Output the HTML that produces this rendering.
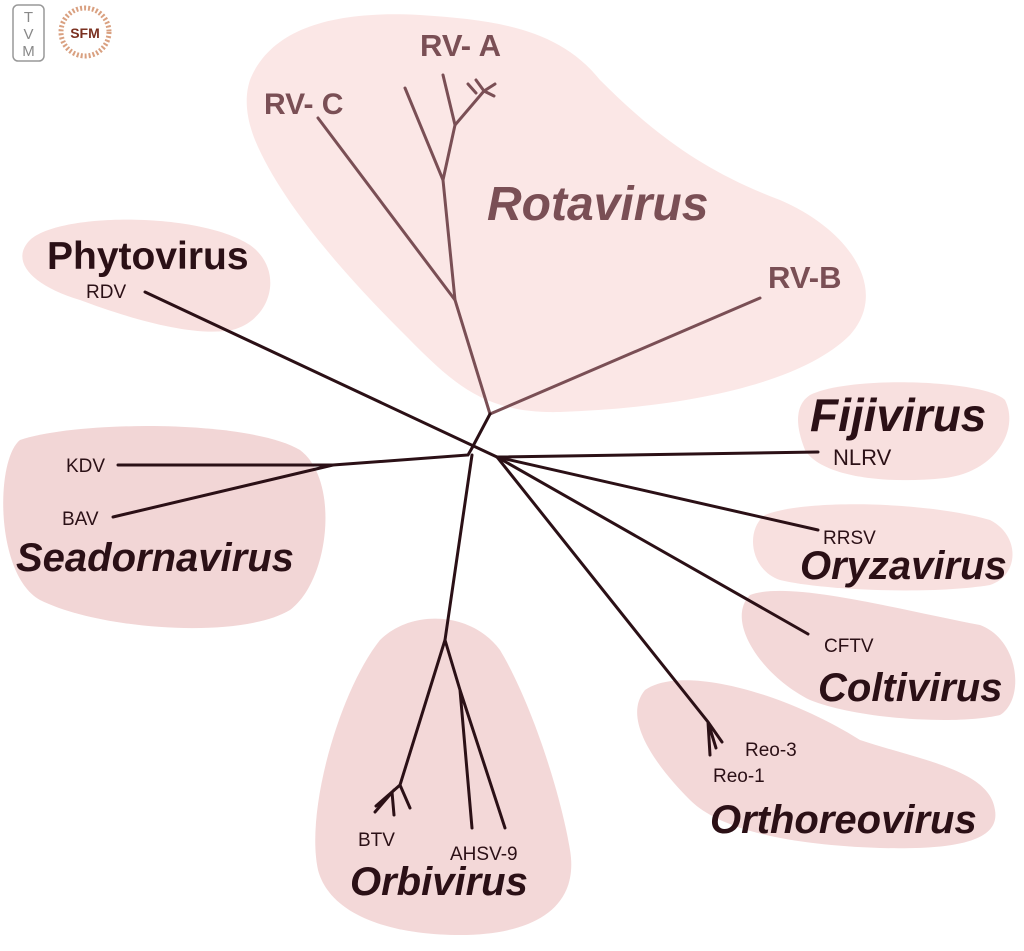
<!DOCTYPE html>
<html><head><meta charset="utf-8"><style>
body{margin:0;background:#fff}
svg{display:block}
text{font-family:"Liberation Sans",sans-serif}
</style></head><body>
<svg width="1024" height="951" viewBox="0 0 1024 951">
<rect x="13" y="5" width="31" height="56" rx="5" fill="none" stroke="#999" stroke-width="1.5"/>
<text x="28.5" y="22" font-size="15" fill="#888" text-anchor="middle">T</text>
<text x="28.5" y="39" font-size="15" fill="#888" text-anchor="middle">V</text>
<text x="28.5" y="56" font-size="15" fill="#888" text-anchor="middle">M</text>
<circle cx="85" cy="32" r="24" fill="none" stroke="#d9a080" stroke-width="5" stroke-dasharray="2 2"/>
<circle cx="85" cy="32" r="19" fill="#fff"/>
<text x="85" y="38" font-size="14" font-weight="bold" fill="#7a3020" text-anchor="middle">SFM</text>

<path d="M250,80 C270,30 330,10 420,15 C500,20 560,30 600,80 C650,130 700,170 780,200 C850,230 890,290 850,335 C800,385 680,408 560,412 C480,414 450,380 400,330 C340,270 280,200 255,140 C245,115 245,95 250,80 Z" fill="#fbe7e6"/>
<path d="M30,240 C60,212 200,212 250,245 C285,270 272,320 232,330 C190,338 120,315 80,300 C30,285 10,260 30,240 Z" fill="#f8e0df"/>
<path d="M20,440 C80,420 250,420 300,450 C340,480 330,580 290,610 C240,640 100,630 40,600 C-5,575 -5,460 20,440 Z" fill="#f2d6d6"/>
<path d="M810,395 C850,375 985,380 1005,400 C1020,430 995,472 945,478 C880,485 820,475 805,450 C795,425 795,405 810,395 Z" fill="#f8e0df"/>
<path d="M765,515 C800,500 920,500 990,520 C1020,535 1020,575 990,585 C930,595 820,590 780,580 C750,570 745,530 765,515 Z" fill="#f8e0df"/>
<path d="M750,595 C790,580 900,610 980,625 C1020,640 1025,700 1000,715 C960,725 860,720 810,700 C760,675 725,620 750,595 Z" fill="#f3d8d8"/>
<path d="M645,690 C680,665 780,690 860,740 C920,760 990,770 995,810 C1000,840 960,850 880,848 C790,845 720,830 690,800 C660,770 620,720 645,690 Z" fill="#f3d8d8"/>
<path d="M380,640 C410,610 470,610 500,650 C530,700 560,790 570,850 C580,910 530,935 460,935 C390,935 330,915 318,870 C305,810 340,690 380,640 Z" fill="#f3d8d8"/>

<g stroke="#7a4f55" stroke-width="3" fill="none" stroke-linecap="round">
<path d="M490,414 L455,300 L443,180 L455,125 L484,91"/>
<path d="M455,300 L318,118"/>
<path d="M490,414 L760,298"/>
<path d="M443,180 L405,88"/>
<path d="M455,125 L443,75"/>
<path d="M484,91 L476,80 M484,91 L495,84 M484,91 L494,96 M476,93 L468,84"/>
</g>
<g stroke="#2b1016" stroke-width="3" fill="none" stroke-linecap="round">
<path d="M472,448 L490,414"/>
<path d="M145,292 L497,457"/>
<path d="M472,448 L468,455 L333,465 L118,465"/>
<path d="M333,465 L113,517"/>
<path d="M497,457 L818,452"/>
<path d="M497,457 L818,530"/>
<path d="M497,457 L808,634"/>
<path d="M497,457 L708,722 L716,748 M708,722 L710,755 M708,722 L722,742"/>
<path d="M472,455 L445,640 L400,785 L376,806 M400,785 L410,808 M394,790 L375,812 M392,792 L394,815"/>
<path d="M445,640 L460,690 L472,828 M460,690 L505,828"/>
</g>

<g fill="#7a4f55" font-weight="bold">
<text x="420" y="56" font-size="31">RV- A</text>
<text x="264" y="114" font-size="30">RV- C</text>
<text x="768" y="288" font-size="31">RV-B</text>
<text x="487" y="220" font-size="48" font-style="italic">Rotavirus</text>
</g>
<g fill="#2b1016" font-weight="bold">
<text x="47" y="269" font-size="39">Phytovirus</text>
<text x="810" y="431" font-size="46" font-style="italic">Fijivirus</text>
<text x="16" y="571" font-size="40" font-style="italic">Seadornavirus</text>
<text x="800" y="579" font-size="40" font-style="italic">Oryzavirus</text>
<text x="818" y="701" font-size="40" font-style="italic">Coltivirus</text>
<text x="710" y="833" font-size="40" font-style="italic">Orthoreovirus</text>
<text x="350" y="895" font-size="40" font-style="italic">Orbivirus</text>
</g>
<g fill="#2b1016" font-size="19">
<text x="86" y="298">RDV</text>
<text x="66" y="472">KDV</text>
<text x="62" y="525">BAV</text>
<text x="833" y="465" font-size="22">NLRV</text>
<text x="823" y="544">RRSV</text>
<text x="824" y="652">CFTV</text>
<text x="745" y="756">Reo-3</text>
<text x="713" y="782">Reo-1</text>
<text x="358" y="846">BTV</text>
<text x="450" y="860">AHSV-9</text>
</g>
</svg>
</body></html>
